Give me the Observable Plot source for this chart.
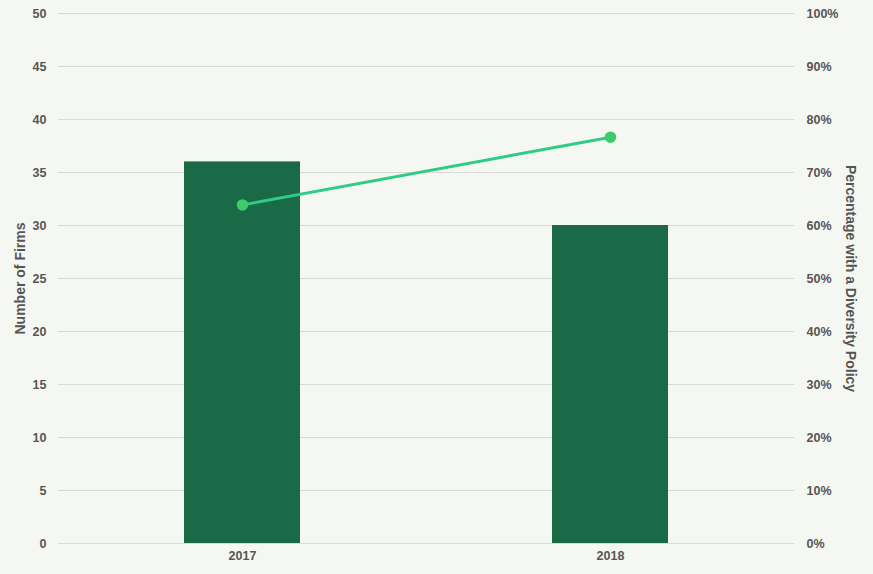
<!DOCTYPE html>
<html><head><meta charset="utf-8">
<script src="https://cdn.jsdelivr.net/npm/d3@7"></script>
<script src="https://cdn.jsdelivr.net/npm/@observablehq/plot@0.6"></script>
<style>
html,body{margin:0;padding:0;background:#f5f8f2;}
</style>
</head><body>
<div id="chart"></div>
<script>
const years = ["2017", "2018"];
const firms = [36, 30];
const pctPolicy = [23/36, 23/30];
const countTicks = [0, 5, 10, 15, 20, 25, 30, 35, 40, 45, 50];
const leftTitle = "Number of Firms";
const rightTitle = "Percentage with a Diversity Policy";

const rows = years.map((y, i) => ({year: y, firms: firms[i], pct: pctPolicy[i]}));
const yMax = 50;

const chart = Plot.plot({
  width: 873,
  height: 574,
  marginLeft: 58,
  marginRight: 79,
  marginTop: 13,
  marginBottom: 31,
  style: {fontFamily: "'Liberation Sans', Arial, sans-serif", fontSize: "12.5px", fontWeight: "bold", color: "#555", background: "#f5f8f2"},
  x: {domain: years, padding: 0},
  y: {domain: [0, yMax]},
  marks: [
    Plot.gridY(countTicks, {stroke: "#d9d9d9", strokeOpacity: 1}),
    Plot.barY(rows, {x: "year", y: "firms", fill: "#1a6a47", insetLeft: 126, insetRight: 126}),
    Plot.line(rows, {x: "year", y: d => d.pct * yMax, stroke: "#2ecc87", strokeWidth: 3}),
    Plot.dot(rows, {x: "year", y: d => d.pct * yMax, r: 5, fill: "#3dcc6a", stroke: "#3dcc6a"}),
    Plot.axisX({tickSize: 0, tickPadding: 8, label: null}),
    Plot.axisY(countTicks, {anchor: "left", tickSize: 0, tickPadding: 12, label: null}),
    Plot.axisY(countTicks, {anchor: "right", tickSize: 0, tickPadding: 12, tickFormat: d => (d * 100 / yMax) + "%", label: null}),
    Plot.text([leftTitle], {text: d => d, frameAnchor: "left", textAnchor: "middle", dx: -38, rotate: -90, fontSize: 14, fontWeight: "bold", fill: "#555"}),
    Plot.text([rightTitle], {text: d => d, frameAnchor: "right", textAnchor: "middle", dx: 56, rotate: 90, fontSize: 14, fontWeight: "bold", fill: "#555"})
  ]
});
document.getElementById("chart").appendChild(chart);
</script>
</body></html>
